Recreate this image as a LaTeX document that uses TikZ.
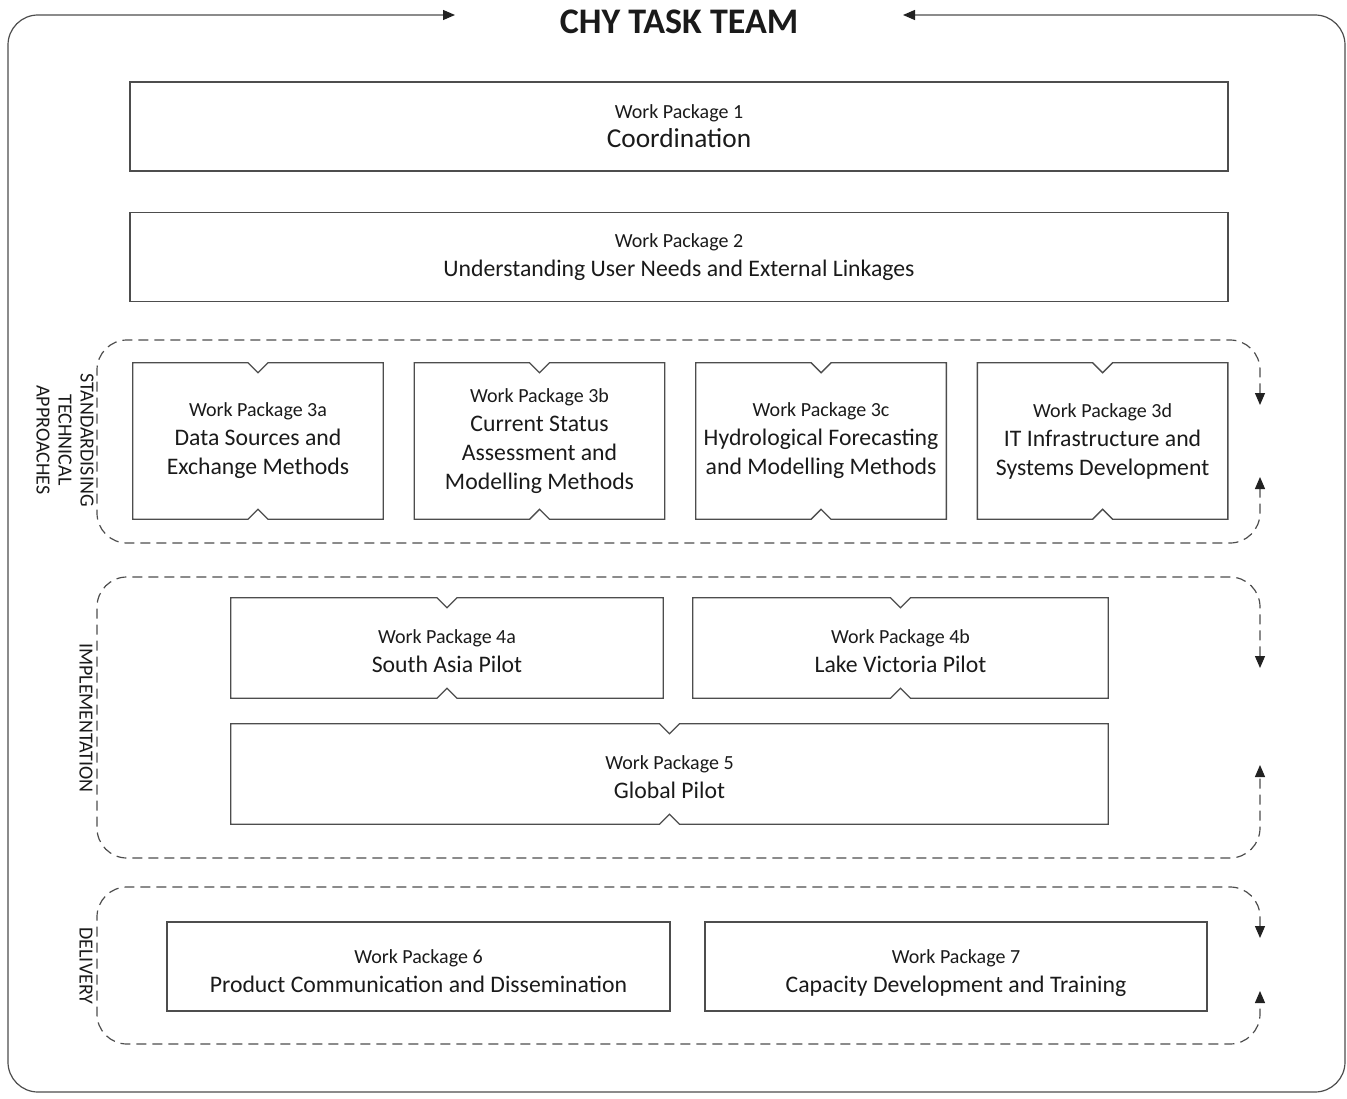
\documentclass[tikz,border=0pt]{standalone}
\usepackage{fontspec}
\setmainfont{Carlito}
\usetikzlibrary{arrows.meta, positioning, calc}
\definecolor{chyLine}{HTML}{4D4D4D}
\definecolor{chyTip}{HTML}{222222}
\definecolor{chyText}{HTML}{1A1A1A}
\newcommand{\wpsmall}{\fontsize{15}{18}\selectfont}
\newcommand{\wpbig}{\fontsize{17.8}{21.75}\selectfont}
\tikzset{
  arrowT/.style={{Triangle[length=9pt,width=7.5pt,color=chyTip]}-{Triangle[length=9pt,width=7.5pt,color=chyTip]},
                 chyLine, line width=0.9pt, rounded corners=22.5pt},
  grpline/.style={arrowT, dash pattern=on 7.5pt off 4.5pt},
  wpbox/.style={rectangle, draw=chyLine, line width=1pt, align=center,
                text=chyText, font=\wpbig, inner sep=0pt},
  wpnotch/.style={rectangle, align=center, text=chyText, font=\wpbig, inner sep=0pt},
  notchline/.style={draw=chyLine, line width=1pt},
  grplabel/.style={rotate=-90, align=center, text=chyText,
                   font=\fontsize{15}{16.5}\selectfont},
}
\begin{document}
\begin{tikzpicture}[x=0.75pt, y=-0.75pt]
    \useasboundingbox (0,0) rectangle (1347,1099);
    % team frame
    \node[font=\fontsize{27}{30}\selectfont\bfseries, text=chyText] (title) at (679,22) {CHY TASK TEAM};
    \coordinate (inL) at (455,15);
    \coordinate (inR) at (903,15);
    \draw[arrowT] (inL) -- (8,15) -- (8,1092) -- (1345,1092) -- (1345,15) -- (inR);

    \node[wpbox, minimum width=823.5pt, minimum height=66.75pt] (wp1) at (679,126.5)
      {{\wpsmall Work Package 1}\\{\fontsize{20.5}{22}\selectfont Coordination}};
    \node[wpbox, minimum width=823.5pt, minimum height=66.75pt, below=30pt of wp1] (wp2)
      {{\wpsmall Work Package 2}\\Understanding User Needs and External Linkages};

    % standardising technical approaches
    \node[wpnotch, minimum width=187.5pt, minimum height=117pt] (wp3a) at (258,441)
      {{\wpsmall Work Package 3a}\\Data Sources and\\Exchange Methods};
    \node[wpnotch, minimum width=187.5pt, minimum height=117pt, right=23.25pt of wp3a] (wp3b)
      {{\wpsmall Work Package 3b}\\Current Status\\Assessment and\\Modelling Methods};
    \node[wpnotch, minimum width=187.5pt, minimum height=117pt, right=23.25pt of wp3b] (wp3c)
      {{\wpsmall Work Package 3c}\\Hydrological Forecasting\\and Modelling Methods};
    \node[wpnotch, minimum width=187.5pt, minimum height=117pt, right=23.25pt of wp3c] (wp3d)
      {{\wpsmall Work Package 3d}\\IT Infrastructure and\\Systems Development};

    % implementation
    \node[wpnotch, minimum width=324pt, minimum height=75pt] (wp4a) at (447,648)
      {{\wpsmall\rule{0pt}{15pt}Work Package 4a}\\South Asia Pilot};
    \node[wpnotch, minimum width=311.25pt, minimum height=75pt] (wp4b) at (900.5,648)
      {{\wpsmall\rule{0pt}{15pt}Work Package 4b}\\Lake Victoria Pilot};
    \node[wpnotch, minimum width=657.75pt, minimum height=75pt] (wp5) at (669.5,774)
      {{\wpsmall\rule{0pt}{15pt}Work Package 5}\\Global Pilot};

    % delivery
    \node[wpbox, minimum width=377.25pt, minimum height=66.75pt] (wp6) at (418.5,966.5)
      {{\wpsmall\rule{0pt}{17pt}Work Package 6}\\Product Communication and Dissemination};
    \node[wpbox, minimum width=376.5pt, minimum height=66.75pt] (wp7) at (956,966.5)
      {{\wpsmall\rule{0pt}{21pt}Work Package 7}\\Capacity Development and Training};

    \foreach \n in {wp3a,wp3b,wp3c,wp3d,wp4a,wp4b,wp5}
      \draw[notchline] (\n.north west) -- ($(\n.north)+(-10,0)$) -- ++(10,10) -- ++(10,-10)
        -- (\n.north east) -- (\n.south east) -- ($(\n.south)+(10,0)$) -- ++(-10,-10)
        -- ++(-10,10) -- (\n.south west) -- cycle;

    % dashed groups, open on the right
    \foreach \top/\bot/\a/\b in {340/543/405/477, 577/858/668/765, 887/1044/938/991}
      \draw[grpline] (1260,\a) -- (1260,\top) -- (97,\top) -- (97,\bot) -- (1260,\bot) -- (1260,\b);

    \node[grplabel] (lblstd) at (65,440) {STANDARDISING\\TECHNICAL\\APPROACHES};
    \node[grplabel] (lblimp) at (86,718) {IMPLEMENTATION};
    \node[grplabel] (lbldel) at (86,966) {DELIVERY};
  \end{tikzpicture}
\end{document}
